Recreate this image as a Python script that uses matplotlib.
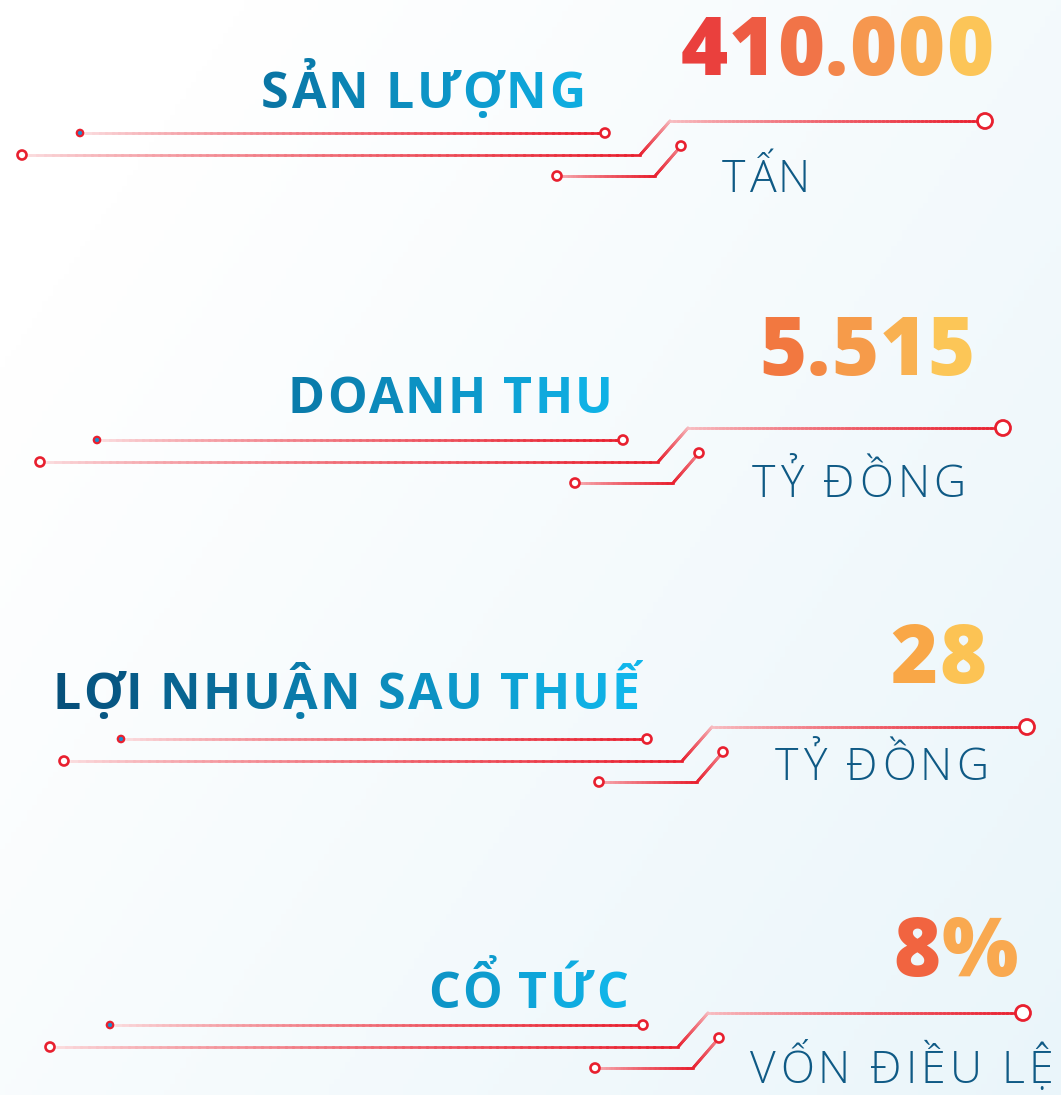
import numpy as np
import matplotlib.pyplot as plt
from matplotlib.collections import LineCollection
from matplotlib.colors import to_rgb
from matplotlib.patches import Circle

OUT = "out.png"
W, H = 1061, 1095

# data
labels = ["SẢN LƯỢNG", "DOANH THU", "LỢI NHUẬN SAU THUẾ", "CỔ TỨC"]
values = ["410.000", "5.515", "28", "8%"]
units = ["TẤN", "TỶ ĐỒNG", "TỶ ĐỒNG", "VỐN ĐIỀU LỆ"]

# colours
value_start = ["#e8303a", "#f06a3c", "#f7963f", "#ee4538"]
VALUE_END = "#fdd05a"
TITLE_DARK = "#064d78"
TITLE_LIGHT = "#10b9ee"
UNIT_COLOR = "#0f5a85"
RED = "#e8202f"
PALE = "#fbe3e5"

# layout (pixels from top-left)
block_dx = [0, 18, 42, 38]
block_dy = [0, 307, 606, 892]
a_left = [80, 97, 121, 110]
b_left = [22, 40, 64, 50]
value_right = [993, 975, 986, 1018]
value_base = [75, 375, 683, 976]
title_right = [585, 613, 640, 628]
title_base = [108, 413, 709, 1008]
unit_left = [722, 752, 775, 750]
unit_base = [192, 497, 780, 1083]

FAMILY = ["Open Sans", "DejaVu Sans"]


def mix(c0, c1, t):
    a, b = np.array(to_rgb(c0)), np.array(to_rgb(c1))
    return tuple(a + (b - a) * min(max(t, 0), 1))


def char_offsets(ax, r, s, **kw):
    probe = ax.text(0, 0, "", **kw)

    def w(t):
        probe.set_text(t + "|")
        return probe.get_window_extent(r).width

    base = w("")
    offs = [w(s[:i]) - base for i in range(len(s))]
    total = w(s) - base
    probe.remove()
    return offs, total


def spaced_text(ax, r, s, x, y, color_fn, ha="left", track=0.0, **kw):
    offs, total = char_offsets(ax, r, s, **kw)
    offs = [o + j * track for j, o in enumerate(offs)]
    total = total + (len(s) - 1) * track
    x0 = x - total if ha == "right" else x
    ends = [o - track for o in offs[1:]] + [total]
    for ch, o, e in zip(s, offs, ends):
        if ch == " ":
            continue
        cx = x0 + (o + e) / 2
        ax.text(x0 + o, y, ch, ha="left", va="baseline",
                color=color_fn(cx, (cx - x0) / total), **kw)


def grad_seg(ax, p0, p1, t0, t1, n=80, lw=1.9):
    # pale underlay hides seams between the small coloured pieces
    ax.plot([p0[0], p1[0]], [p0[1], p1[1]], color=PALE, lw=lw,
            solid_capstyle="butt", zorder=2.9)
    xs = np.linspace(p0[0], p1[0], n + 1)
    ys = np.linspace(p0[1], p1[1], n + 1)
    pts = np.column_stack([xs, ys])
    segs = np.stack([pts[:-1], pts[1:]], axis=1)
    cols = [mix(PALE, RED, t ** 0.7) for t in np.linspace(t0, t1, n)]
    ax.add_collection(LineCollection(segs, colors=cols, linewidths=lw,
                                     capstyle="projecting", zorder=3))


def ring(ax, x, y, rad, lw=1.9, fill="white"):
    ax.add_patch(Circle((x, y), rad, facecolor=fill, edgecolor=RED,
                        linewidth=lw, zorder=4))


def main():
    fig = plt.figure(figsize=(W / 100, H / 100), dpi=100)
    ax = fig.add_axes([0, 0, 1, 1])
    ax.set_xlim(0, W)
    ax.set_ylim(H, 0)
    ax.axis("off")

    # soft background gradient
    gx, gy = np.meshgrid(np.linspace(0, 1, 200), np.linspace(0, 1, 200))
    t = np.clip(0.65 * gx + 0.45 * gy - 0.15, 0, 1)[..., None]
    top = np.array(to_rgb("#ffffff"))
    bot = np.array(to_rgb("#e9f5fa"))
    ax.imshow(top + (bot - top) * t, extent=[0, W, H, 0], aspect="auto", zorder=0)

    r = fig.canvas.get_renderer()

    for i in range(len(labels)):
        dx, dy = block_dx[i], block_dy[i]

        # circuit lines
        ya, yb, yc, yup, ytop = 133 + dy, 155 + dy, 176 + dy, 121 + dy, 146 + dy
        grad_seg(ax, (a_left[i], ya), (605 + dx, ya), 0.0, 1.0)
        grad_seg(ax, (b_left[i], yb), (640 + dx, yb), 0.0, 1.0)
        grad_seg(ax, (640 + dx, yb), (670 + dx, yup), 1.0, 0.15, n=30)
        grad_seg(ax, (670 + dx, yup), (985 + dx, yup), 0.1, 1.0)
        grad_seg(ax, (557 + dx, yc), (655 + dx, yc), 0.15, 1.0, n=40)
        grad_seg(ax, (655 + dx, yc), (681 + dx, ytop), 1.0, 0.35, n=30)

        ring(ax, a_left[i], ya, 3.2, lw=1.6, fill="#1a8fd0")
        ring(ax, 605 + dx, ya, 4.5)
        ring(ax, b_left[i], yb, 4.5)
        ring(ax, 985 + dx, yup, 7.5, lw=2.0)
        ring(ax, 557 + dx, yc, 4.5)
        ring(ax, 681 + dx, ytop, 4.5)

        # big number
        c0 = value_start[i]
        spaced_text(ax, r, values[i], value_right[i], value_base[i],
                    lambda cx, tt, c0=c0: mix(c0, VALUE_END, tt ** 0.9),
                    ha="right", track=1.0, fontsize=58, fontweight="heavy",
                    family=FAMILY, zorder=5)

        # title
        spaced_text(ax, r, labels[i], title_right[i], title_base[i],
                    lambda cx, tt: mix(TITLE_DARK, TITLE_LIGHT, (cx - 50) / 590),
                    ha="right", track=2.3, fontsize=36, fontweight="bold",
                    family=FAMILY, zorder=5)

        # unit
        spaced_text(ax, r, units[i], unit_left[i], unit_base[i],
                    lambda cx, tt: UNIT_COLOR,
                    ha="left", track=4.2, fontsize=32, fontweight="light",
                    family=FAMILY, zorder=5)

    fig.savefig(OUT, dpi=100)


if __name__ == "__main__":
    main()
